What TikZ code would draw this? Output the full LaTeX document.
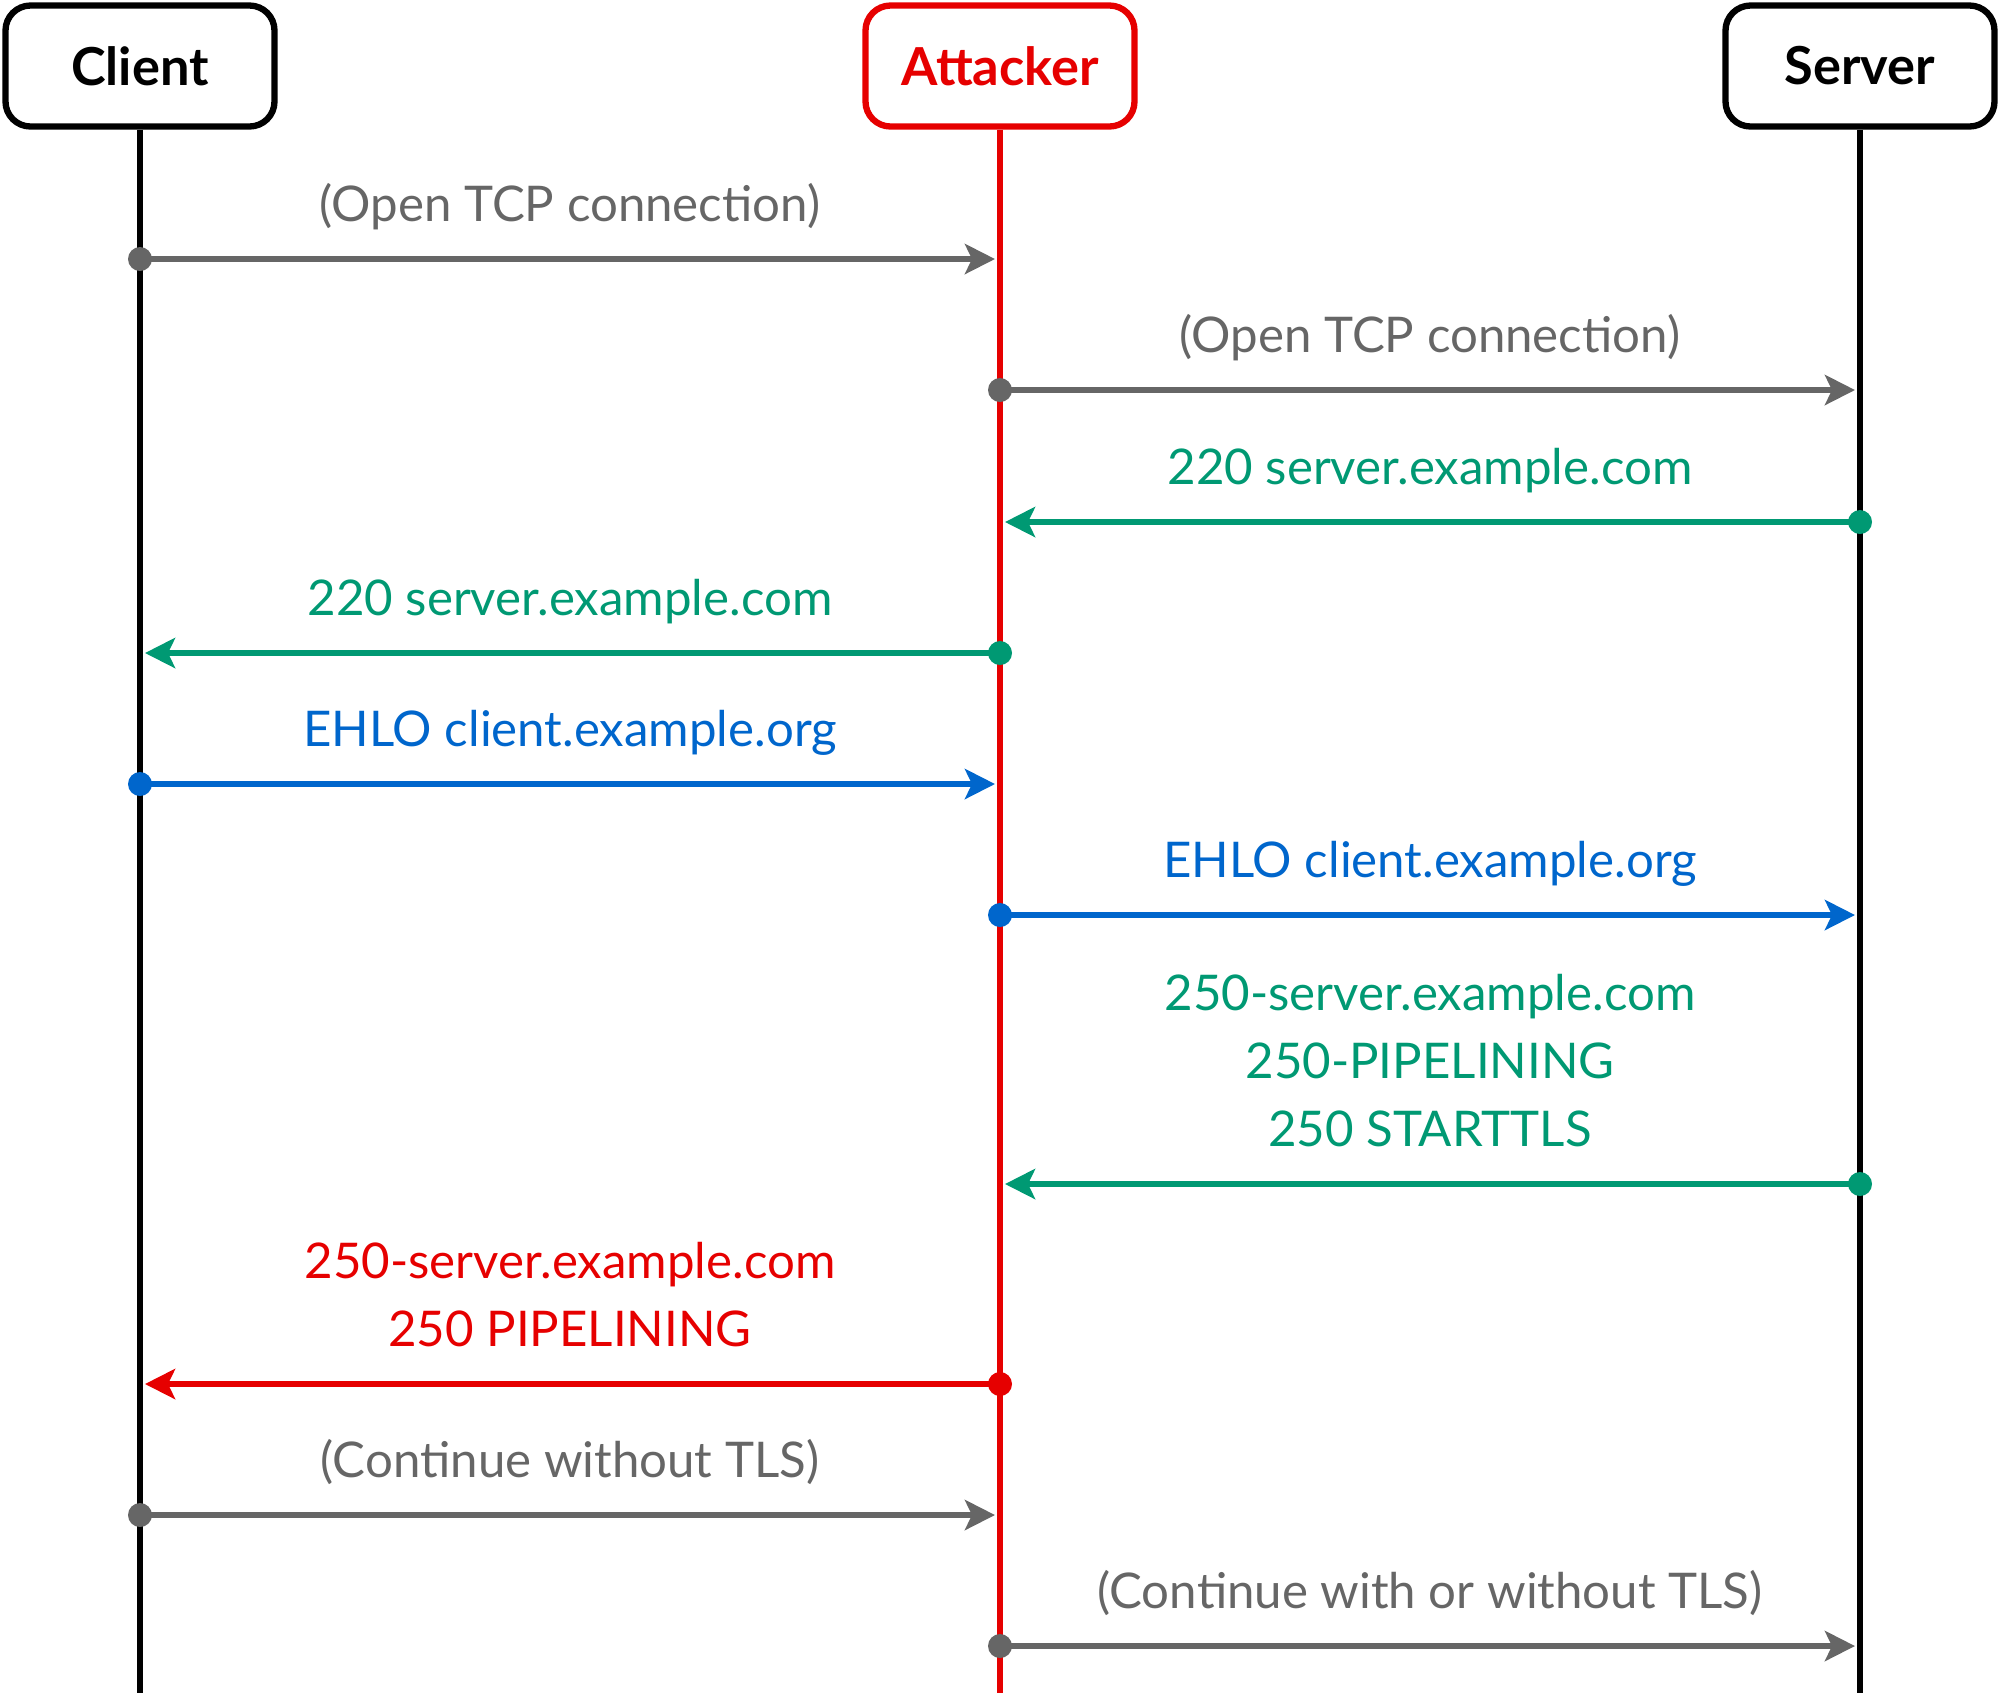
\documentclass[tikz,border=0pt]{standalone}
\usepackage{fontspec}
\setmainfont{Lato}
\usetikzlibrary{arrows.meta}

\definecolor{msggray}{RGB}{102,102,102}
\definecolor{msggreen}{RGB}{0,153,115}
\definecolor{msgblue}{RGB}{0,102,204}
\definecolor{msgred}{RGB}{230,0,0}

\begin{document}
\begin{tikzpicture}[
	every node/.style = {align=center, font=\fontsize{14}{19.3}\selectfont},
	actor/.style = {shape=rectangle, rounded corners=0.25cm, draw, line width=1.8pt,
		fill=white, minimum width=2.69cm, minimum height=1.21cm,
		font=\fontsize{14.9}{17}\selectfont\bfseries},
	lifeline/.style = {line width=1.8pt},
	msg/.style = {line width=1.8pt, shorten >=0.05cm,
		-{Stealth[length=0.3cm, width=0.3cm, inset=0.07cm]}},
	label/.style = {above=0.14cm, text depth=0.25em}]
	\useasboundingbox (0,0) rectangle (20,-16.93);

	% participants
	\node[actor] (client) at (1.40,-0.66) {Client};
	\node[actor, draw=msgred, text=msgred] (attacker) at (10.00,-0.66) {Attacker};
	\node[actor] (server) at (18.60,-0.66) {Server};

	\coordinate (clientend) at (1.40,-16.93);
	\coordinate (attackerend) at (10.00,-16.93);
	\coordinate (serverend) at (18.60,-16.93);
	\draw[lifeline] (client) -- (clientend);
	\draw[lifeline, msgred] (attacker) -- (attackerend);
	\draw[lifeline] (server) -- (serverend);

	% message rows
	\coordinate (c1) at (1.40,-2.59);   \coordinate (a1) at (10.00,-2.59);
	\coordinate (a2) at (10.00,-3.90);  \coordinate (s2) at (18.60,-3.90);
	\coordinate (a3) at (10.00,-5.22);  \coordinate (s3) at (18.60,-5.22);
	\coordinate (c4) at (1.40,-6.53);   \coordinate (a4) at (10.00,-6.53);
	\coordinate (c5) at (1.40,-7.84);   \coordinate (a5) at (10.00,-7.84);
	\coordinate (a6) at (10.00,-9.15);  \coordinate (s6) at (18.60,-9.15);
	\coordinate (a7) at (10.00,-11.84); \coordinate (s7) at (18.60,-11.84);
	\coordinate (c8) at (1.40,-13.84);  \coordinate (a8) at (10.00,-13.84);
	\coordinate (c9) at (1.40,-15.15);  \coordinate (a9) at (10.00,-15.15);
	\coordinate (a10) at (10.00,-16.46); \coordinate (s10) at (18.60,-16.46);

	\draw[msg, msggray] (c1) -- node[label, midway, text=msggray] {(Open TCP connection)} (a1);
	\draw[msg, msggray] (a2) -- node[label, midway, text=msggray] {(Open TCP connection)} (s2);
	\draw[msg, msggreen] (s3) -- node[label, midway, text=msggreen] {220 server.example.com} (a3);
	\draw[msg, msggreen] (a4) -- node[label, midway, text=msggreen] {220 server.example.com} (c4);
	\draw[msg, msgblue] (c5) -- node[label, midway, text=msgblue] {EHLO client.example.org} (a5);
	\draw[msg, msgblue] (a6) -- node[label, midway, text=msgblue] {EHLO client.example.org} (s6);
	\draw[msg, msggreen] (s7) -- node[label, midway, text=msggreen]
		{250-server.example.com\\250-PIPELINING\\250 STARTTLS} (a7);
	\draw[msg, msgred] (a8) -- node[label, midway, text=msgred]
		{250-server.example.com\\250 PIPELINING} (c8);
	\draw[msg, msggray] (c9) -- node[label, midway, text=msggray] {(Continue without TLS)} (a9);
	\draw[msg, msggray] (a10) -- node[label, midway, text=msggray] {(Continue with or without TLS)} (s10);

	% start dots
	\fill[msggray] (c1) circle (0.12);
	\fill[msggray] (a2) circle (0.12);
	\fill[msggreen] (s3) circle (0.12);
	\fill[msggreen] (a4) circle (0.12);
	\fill[msgblue] (c5) circle (0.12);
	\fill[msgblue] (a6) circle (0.12);
	\fill[msggreen] (s7) circle (0.12);
	\fill[msgred] (a8) circle (0.12);
	\fill[msggray] (c9) circle (0.12);
	\fill[msggray] (a10) circle (0.12);
\end{tikzpicture}
\end{document}
